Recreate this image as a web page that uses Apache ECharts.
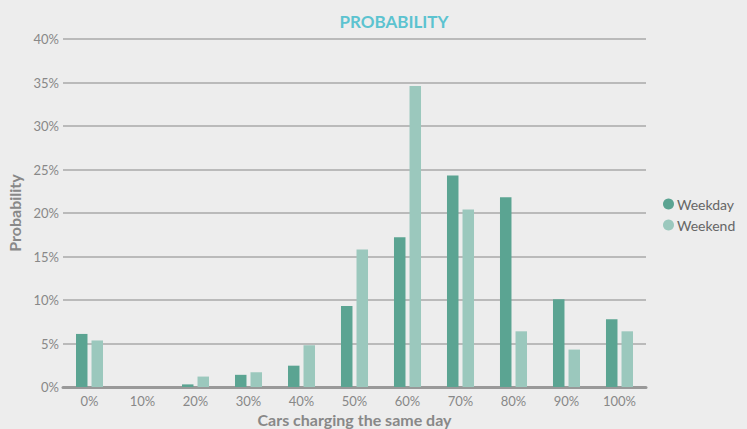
<!DOCTYPE html>
<html>
<head>
<meta charset="utf-8">
<script src="https://cdn.jsdelivr.net/npm/echarts@6/dist/echarts.min.js"></script>
<style>
  html, body { margin: 0; padding: 0; background: #ededed; }
  #main { width: 747px; height: 429px; }
</style>
</head>
<body>
<div id="main"></div>
<script>
const categories = ['0%', '10%', '20%', '30%', '40%', '50%', '60%', '70%', '80%', '90%', '100%'];
const weekday = [6.1, 0, 0.3, 1.4, 2.45, 9.3, 17.2, 24.3, 21.8, 10.1, 7.8];
const weekend = [5.35, 0, 1.2, 1.7, 4.8, 15.8, 34.6, 20.4, 6.4, 4.3, 6.4];
const yTicks = { min: 0, max: 40, interval: 5 };

const chart = echarts.init(document.getElementById('main'), null, { renderer: 'svg' });

const font = 'Lato, "Open Sans", sans-serif';

const option = {
  backgroundColor: '#ededed',
  title: {
    text: 'PROBABILITY',
    left: 389,
    textAlign: 'center',
    top: 8,
    textStyle: { color: '#5cc3d0', fontSize: 17, fontWeight: 'bold', fontFamily: font }
  },
  legend: {
    orient: 'vertical',
    left: 658,
    top: 192,
    itemWidth: 11,
    itemHeight: 11,
    itemGap: 7,
    icon: 'circle',
    textStyle: { color: '#666', fontSize: 14, fontFamily: font, padding: [0, 0, 0, -2] },
    data: ['Weekday', 'Weekend']
  },
  grid: { left: 63, right: 101, top: 39, bottom: 42, containLabel: false, outerBoundsMode: 'none' },
  xAxis: {
    type: 'category',
    data: categories,
    name: 'Cars charging the same day',
    nameLocation: 'middle',
    nameGap: 24,
    nameTextStyle: { color: '#888', fontSize: 16, fontWeight: 'bold', fontFamily: font },
    axisLine: { lineStyle: { color: '#999', width: 3 } },
    axisTick: { show: false },
    axisLabel: { color: '#888', fontSize: 13, fontFamily: font, margin: 7 }
  },
  yAxis: {
    type: 'value',
    min: yTicks.min,
    max: yTicks.max,
    interval: yTicks.interval,
    name: 'Probability',
    nameLocation: 'middle',
    nameGap: 39,
    nameTextStyle: { color: '#888', fontSize: 16, fontWeight: 'bold', fontFamily: font },
    axisLine: { show: false },
    axisTick: { show: false },
    axisLabel: { color: '#888', fontSize: 13, fontFamily: font, margin: 4, formatter: '{value}%' },
    splitLine: { lineStyle: { color: '#a8a8a8', width: 1.5 } }
  },
  series: [
    {
      name: 'Weekday',
      type: 'bar',
      data: weekday,
      barWidth: 11.5,
      barGap: '35%',
      itemStyle: { color: '#5ba492' }
    },
    {
      name: 'Weekend',
      type: 'bar',
      data: weekend,
      barWidth: 11.5,
      itemStyle: { color: '#9bc8bd' }
    }
  ]
};

chart.setOption(option);
</script>
</body>
</html>
